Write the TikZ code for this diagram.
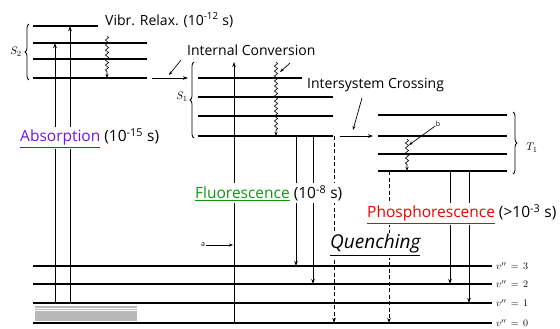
\documentclass[tikz,border=0pt]{standalone}
\usepackage{fontspec}
\setmainfont{Open Sans}
\usetikzlibrary{arrows.meta,decorations.pathmorphing,decorations.pathreplacing}
\definecolor{absc}{RGB}{112,20,230}
\definecolor{fluc}{RGB}{20,150,20}
\definecolor{phoc}{RGB}{240,0,0}
\begin{document}
\begin{tikzpicture}[x=1pt,y=-1pt,
  level/.style={line width=1.6pt},
  trans/.style={line width=0.7pt,-{Stealth[length=5pt,width=3.5pt]}},
  nonrad/.style={trans,dash pattern=on 4pt off 2.5pt},
  wavy/.style={line width=0.6pt,-{Stealth[length=4pt,width=3pt]},decorate,
    decoration={snake,amplitude=1.6pt,segment length=5pt,post length=4pt}},
  pointer/.style={line width=0.7pt,-{Stealth[length=4pt,width=3pt]}},
  brc/.style={line width=0.8pt,decorate,decoration={brace,amplitude=4pt}},
  txt/.style={font=\fontsize{14}{16}\selectfont,inner sep=1pt,fill=white},
  big/.style={font=\fontsize{15.5}{17}\selectfont,inner sep=2pt,fill=white},
  quench/.style={font=\fontsize{19}{21}\selectfont\itshape,inner sep=2pt,fill=white},
  state/.style={font=\fontsize{11}{13}\selectfont,inner sep=1pt},
  tiny/.style={font=\fontsize{7}{8}\selectfont,inner sep=0.5pt},
  vlab/.style={font=\fontsize{10}{12}\selectfont,inner sep=1pt,anchor=west}]
\useasboundingbox (0,0) rectangle (560,329);

% ground state S0 with its vibrational levels
\fill[gray!55] (35,306) rectangle (137,321);
\draw[white,line width=0.5pt] (35,308) -- (137,308) (35,310) -- (137,310);
\foreach \y/\v in {266/3,284/2,303/1,323/0}{
  \coordinate (gl\v) at (33,\y);
  \coordinate (gr\v) at (492,\y);
  \draw[level] (gl\v) -- (gr\v);
  \node[vlab] (v\v) at (495,\y) {$v''\,=\,\v$};
}

% singlet S2
\draw[level] (33,26) -- (98,26);
\foreach \y in {43,59,78} \draw[level] (33,\y) -- (147,\y);
\draw[brc] (29,80) -- (29,24);
\node[state] (s2) at (16,52) {$S_2$};

% singlet S1
\draw[level] (198,78) -- (302,78);
\foreach \y in {97,116,136} \draw[level] (198,\y) -- (333,\y);
\draw[brc] (194,138) -- (194,62);
\node[state] (s1) at (182,97) {$S_1$};

% triplet T1
\foreach \y in {115,136,154,171} \draw[level] (378,\y) -- (507,\y);
\draw[brc] (513,112) -- (513,174);
\node[state] (t1) at (532,148) {$T_1$};

% absorption
\draw[trans] (55,303) -- (55,43);
\draw[trans] (70,303) -- (70,26);
\draw[trans] (234,323) -- (234,62);

% vibrational relaxation and internal conversion
\draw[wavy] (107,36) -- (107,78);
\draw[wavy] (276,62) -- (276,136);
\draw[wavy] (407,139) -- (407,171);
\draw[trans] (152,78) -- (188,78);
\draw[pointer] (181,60) -- (169,75);
\draw[pointer] (290,63) -- (280,72);

% intersystem crossing
\draw[trans] (340,136) -- (373,136);
\draw[pointer] (362,98) -- (353,130);
\node[tiny] (b) at (438,124) {b};
\draw[pointer] (b) -- (409,145);

% fluorescence
\draw[trans] (296,136) -- (296,266);
\draw[trans] (313,136) -- (313,284);
\draw[nonrad] (334,136) -- (334,323);

% phosphorescence
\draw[trans] (450,171) -- (450,284);
\draw[trans] (469,171) -- (469,303);
\draw[nonrad] (389,171) -- (389,323);

% marker a
\node[tiny] (a) at (203,245) {a};
\coordinate (aend) at (233,245);
\draw[pointer] (a) -- (aend);

% labels
\node[txt,anchor=west] (vr) at (104,20) {Vibr. Relax. (10\textsuperscript{-12} s)};
\node[txt,anchor=west] (ic) at (186,50) {Internal Conversion};
\node[txt,anchor=west] (isc) at (306,85) {Intersystem Crossing};
\node[big,anchor=west] (abs) at (18,138) {\textcolor{absc}{\underline{Absorption}} (10\textsuperscript{-15} s)};
\node[big,anchor=west] (flu) at (193,193) {\textcolor{fluc}{\underline{Fluorescence}} (10\textsuperscript{-8} s)};
\node[big,anchor=west] (pho) at (365,214) {\textcolor{phoc}{\underline{Phosphorescence}} (>10\textsuperscript{-3} s)};
\node[quench,anchor=west] (qu) at (328,245) {\underline{Quenching}};
\end{tikzpicture}
\end{document}
